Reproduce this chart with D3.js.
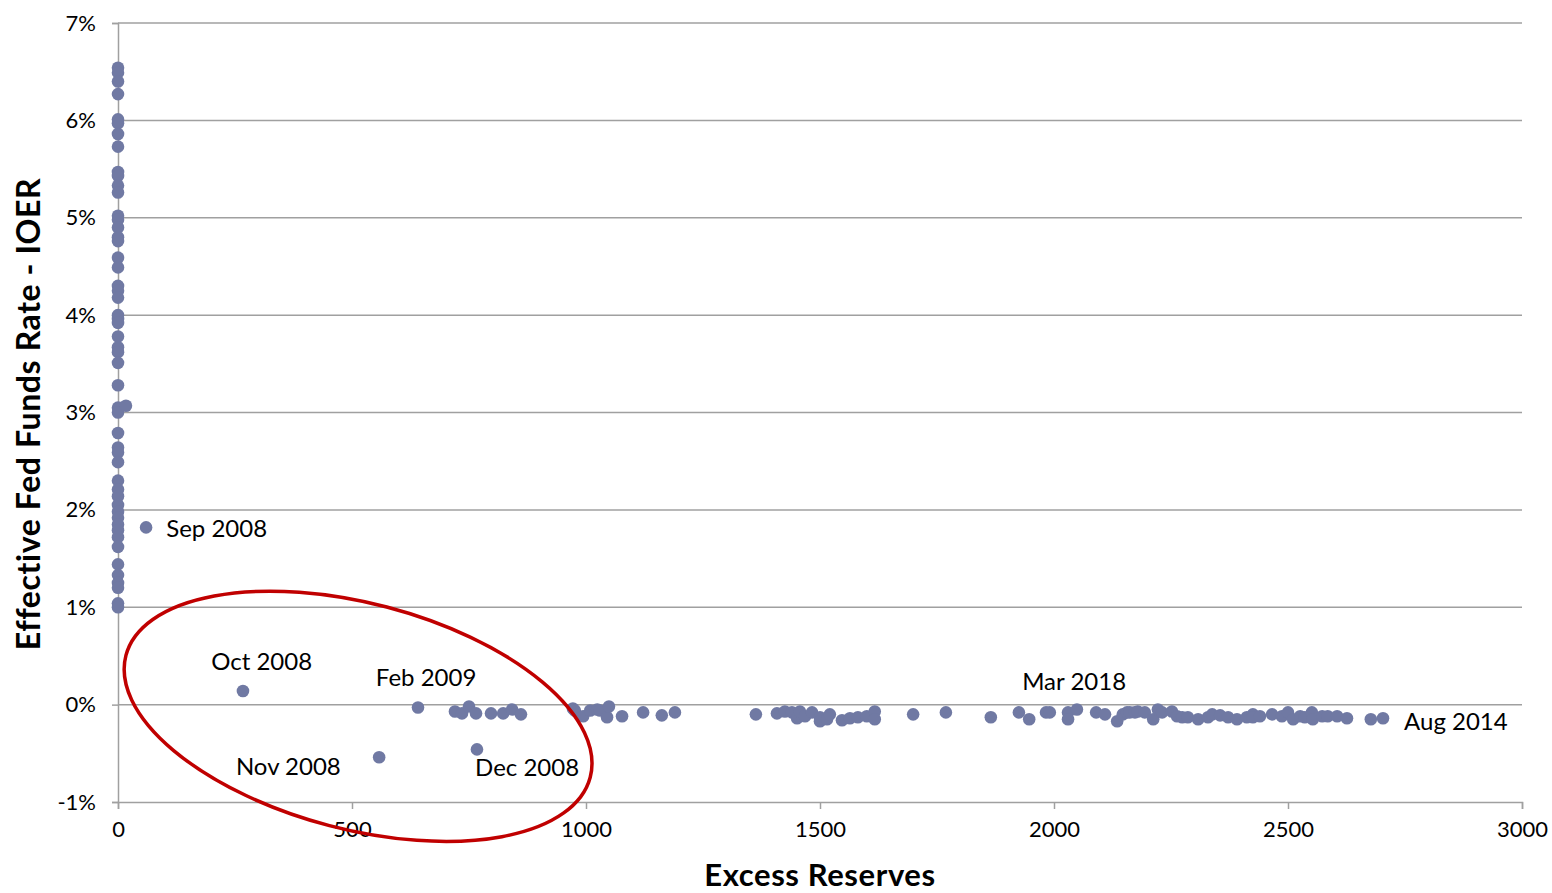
<!DOCTYPE html>
<html><head><meta charset="utf-8">
<script src="https://cdn.jsdelivr.net/npm/d3@7"></script>
<style>
html,body{margin:0;padding:0;background:#fff;}
svg{display:block;font-family:Lato,"Open Sans",sans-serif;}
</style></head>
<body>
<svg id="chart" width="1552" height="893"></svg>
<script>
// Excess reserves (billions) and effective fed funds rate minus IOER (%)
const excessReserves = [
  0,0,0,0,0,0,0,0,0,0,0,0,0,0,0,0,0,0,0,0,0,0,0,0,0,0,0,0,0,0,0,0,0,0,0,0,0,0,0,0,0,0,0,0,0,0,0,0,0,0,0,0,
  17,60,267,558,767,641,
  720,735,750,765,797,823,842,861,
  972,976,994,1009,1024,1030,1045,1049,1077,1122,1162,1190,
  1363,1408,1425,1440,1451,1457,1468,1483,1500,1500,1515,1521,1547,1564,1581,1600,1617,1617,
  1699,1769,1865,1925,1947,1983,1991,2030,2030,2049,2090,2109,2135,2147,2156,2162,2173,2179,2194,2212,2222,2231,
  2252,2263,2274,2286,2308,2329,2338,2355,2372,2391,2412,2425,2425,2440,2466,2487,2500,2511,2526,2536,2551,2553,
  2573,2585,2605,2626,2677,2703
];
const rateSpread = [
  6.54,6.49,6.40,6.27,6.01,5.97,5.86,5.73,5.47,5.43,5.33,5.26,5.02,4.98,4.90,4.80,4.76,4.59,4.49,4.30,4.25,4.18,
  4.00,3.96,3.92,3.78,3.67,3.62,3.51,3.28,3.05,3.00,2.79,2.64,2.59,2.49,2.30,2.21,2.14,2.05,1.98,1.92,1.85,1.79,
  1.72,1.62,1.44,1.33,1.25,1.20,1.04,1.00,
  3.07,1.82,0.14,-0.54,-0.46,-0.03,
  -0.07,-0.09,-0.02,-0.09,-0.09,-0.09,-0.05,-0.10,
  -0.04,-0.06,-0.12,-0.06,-0.05,-0.06,-0.13,-0.02,-0.12,-0.08,-0.11,-0.08,
  -0.10,-0.09,-0.07,-0.08,-0.14,-0.07,-0.12,-0.08,-0.13,-0.17,-0.15,-0.10,-0.16,-0.14,-0.13,-0.12,-0.07,-0.15,
  -0.10,-0.08,-0.13,-0.08,-0.15,-0.08,-0.08,-0.08,-0.15,-0.05,-0.08,-0.10,-0.17,-0.10,-0.08,-0.08,-0.08,-0.07,-0.08,-0.15,-0.05,-0.08,
  -0.07,-0.12,-0.13,-0.13,-0.15,-0.13,-0.10,-0.11,-0.13,-0.15,-0.13,-0.10,-0.13,-0.12,-0.10,-0.12,-0.08,-0.15,-0.12,-0.13,-0.08,-0.15,
  -0.12,-0.12,-0.12,-0.14,-0.15,-0.14
];
const xTicks = [0,500,1000,1500,2000,2500,3000];
const yTicks = [-1,0,1,2,3,4,5,6,7];
const labelTexts = ["Sep 2008","Oct 2008","Feb 2009","Mar 2018","Nov 2008","Dec 2008","Aug 2014"];
const labelX = [103,199,551,1932,252,763,2748];
const labelY = [1.82,0.45,0.29,0.25,-0.63,-0.64,-0.16];

const svg = d3.select("#chart");
const x = d3.scaleLinear().domain([0,3000]).range([118,1522]);
const y = d3.scaleLinear().domain([-1,7]).range([802,23]);

// gridlines
svg.append("g").selectAll("line").data(yTicks.filter(d=>d!==-1)).join("line")
  .attr("x1",x(0)).attr("x2",x(3000))
  .attr("y1",d=>y(d)).attr("y2",d=>y(d))
  .attr("stroke","#a0a0a0").attr("stroke-width",1.5);

// y axis
const yAxis = svg.append("g").attr("transform",`translate(${x(0)},0)`)
  .call(d3.axisLeft(y).tickValues(yTicks).tickSize(6).tickPadding(16).tickFormat(d=>d+"%"));
yAxis.select(".domain").attr("stroke","#a0a0a0").attr("stroke-width",1.5);
yAxis.selectAll(".tick line").attr("stroke","#a0a0a0").attr("stroke-width",1.5);
yAxis.selectAll("text").attr("font-size",22).attr("fill","#000").attr("font-family","Lato,sans-serif");

// x axis
const xAxis = svg.append("g").attr("transform",`translate(0,${y(-1)})`)
  .call(d3.axisBottom(x).tickValues(xTicks).tickSize(7).tickPadding(12).tickFormat(d3.format("d")));
xAxis.select(".domain").attr("stroke","#a0a0a0").attr("stroke-width",1.5);
xAxis.selectAll(".tick line").attr("stroke","#a0a0a0").attr("stroke-width",1.5);
xAxis.selectAll("text").attr("font-size",22).attr("fill","#000").attr("font-family","Lato,sans-serif");

// points
svg.append("g").selectAll("circle").data(excessReserves.map((v,i)=>[v,rateSpread[i]])).join("circle")
  .attr("cx",d=>x(d[0])).attr("cy",d=>y(d[1])).attr("r",6.3)
  .attr("fill","#7079a3");

// labels
svg.append("g").selectAll("text").data(labelTexts).join("text")
  .attr("x",(d,i)=>x(labelX[i])).attr("y",(d,i)=>y(labelY[i]))
  .attr("dominant-baseline","central")
  .attr("font-size",24).attr("fill","#000").text(d=>d);

// highlight ellipse (annotation)
const cx = x(513), cy = y(-0.12);
svg.append("ellipse")
  .attr("cx",0).attr("cy",0).attr("rx",240).attr("ry",113)
  .attr("transform",`translate(${cx},${cy}) rotate(14.7)`)
  .attr("fill","none").attr("stroke","#c00000").attr("stroke-width",3.5);

// axis titles
svg.append("text").attr("x",820).attr("y",886).attr("text-anchor","middle")
  .attr("font-size",31).attr("font-weight","bold").attr("letter-spacing",0.6).attr("fill","#000").text("Excess Reserves");
svg.append("text").attr("transform","translate(40,414) rotate(-90)").attr("text-anchor","middle")
  .attr("font-size",32).attr("font-weight","bold").attr("letter-spacing",0.6).attr("fill","#000").text("Effective Fed Funds Rate - IOER");
</script>
</body></html>
